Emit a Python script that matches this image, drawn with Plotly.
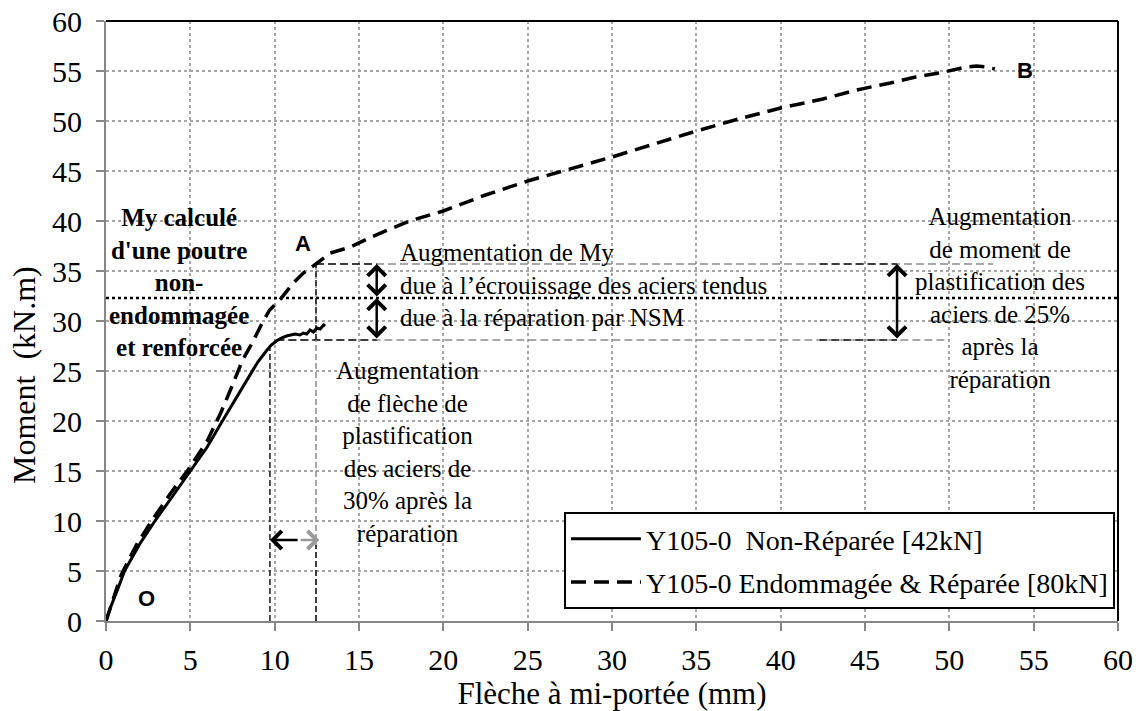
import plotly.graph_objects as go

# Mid-span deflection (mm) vs bending moment (kN.m)
defl_unrepaired = [0, 0.3, 0.7, 1.1, 2.0, 2.9, 4.0, 5.0, 6.0, 6.9, 7.7, 8.4, 9.0, 9.5, 9.8,
                   10.1, 10.4, 10.7, 10.9, 11.2, 11.5, 11.7, 11.9, 12.1, 12.3, 12.5, 12.7, 12.9, 13.0]
moment_unrepaired = [0, 1.5, 3.2, 5.0, 7.7, 10.0, 12.6, 15.0, 17.4, 20.0, 22.3, 24.3, 25.9, 27.0, 27.6,
                     28.0, 28.3, 28.5, 28.6, 28.7, 28.6, 28.8, 28.7, 29.1, 28.9, 29.3, 29.2, 29.6, 29.5]

defl_repaired = [0, 0.4, 0.9, 1.8, 2.7, 3.8, 4.9, 6.0, 6.8, 7.4, 8.1, 8.7, 9.2, 9.7, 10.3, 11.1,
                 11.7, 12.45, 13.3, 14.5, 15.6, 16.7, 18.0, 20.0, 22.5, 25.0, 27.5, 30.0, 32.5, 35.0,
                 37.5, 40.0, 42.5, 44.5, 46.5, 48.0, 49.7, 51.0, 51.6, 52.2, 52.7]
moment_repaired = [0, 2.0, 4.6, 7.6, 10.0, 12.7, 15.2, 18.0, 20.8, 23.2, 26.1, 27.9, 29.6, 31.1, 32.1, 33.8,
                   34.8, 35.7, 36.8, 37.4, 38.3, 39.1, 40.0, 41.0, 42.6, 44.0, 45.2, 46.4, 47.7, 49.0,
                   50.2, 51.3, 52.2, 53.1, 53.8, 54.4, 54.9, 55.4, 55.5, 55.4, 55.2]

series_names = ["Y105-0\u00a0 Non-Réparée [42kN]", "Y105-0 Endommagée & Réparée [80kN]"]

# Characteristic levels
my_calc = 32.3          # computed yield moment, undamaged strengthened beam
my_unrepaired = 28.1    # yield moment, unrepaired beam
my_repaired = 35.7      # yield moment, repaired beam (point A)
dy_unrepaired = 9.72    # yield deflection, unrepaired beam
dy_repaired = 12.45     # yield deflection, repaired beam
arrow_x_my = 16.05
arrow_x_pct = 46.9
arrow_y_defl = 8.1
arrow_split = 11.45

x_ticks = list(range(0, 61, 5))
y_ticks = list(range(0, 61, 5))

SERIF = "Liberation Serif"
SANS = "Liberation Sans"
GRAY = "#8c8c8c"
DARK = "#1a1a1a"

fig = go.Figure()


def ref_line(xs, ys, color, dash, width=1.5):
    fig.add_trace(go.Scatter(x=xs, y=ys, mode="lines", showlegend=False, hoverinfo="skip",
                             line=dict(color=color, width=width, dash=dash)))


# Computed My (bold dotted line across the plot)
ref_line([0, 60], [my_calc, my_calc], "black", "dot", 2.5)

# Horizontal dashed lines at the two yield moments
ref_line([dy_repaired, 52.6], [my_repaired, my_repaired], GRAY, "8px,4px")
ref_line([10.1, 50.0], [my_unrepaired, my_unrepaired], GRAY, "8px,4px")
ref_line([dy_repaired, arrow_x_my], [my_repaired, my_repaired], DARK, "8px,4px")
ref_line([10.1, arrow_x_my], [my_unrepaired, my_unrepaired], DARK, "8px,4px")
ref_line([42.3, arrow_x_pct], [my_repaired, my_repaired], DARK, "8px,4px")
ref_line([42.3, arrow_x_pct], [my_unrepaired, my_unrepaired], DARK, "8px,4px")

# Vertical dashed lines at the two yield deflections
ref_line([dy_unrepaired, dy_unrepaired], [0, 27.6], DARK, "6px,3px")
ref_line([dy_repaired, dy_repaired], [0, my_repaired], GRAY, "6px,3px")
ref_line([dy_repaired, dy_repaired], [0, 7.6], DARK, "6px,3px")
ref_line([dy_repaired, dy_repaired], [my_unrepaired, my_repaired], DARK, "6px,3px")

# Test curves
fig.add_trace(go.Scatter(x=defl_unrepaired, y=moment_unrepaired, mode="lines", name=series_names[0],
                         line=dict(color="black", width=3), legendgroup="a"))
fig.add_trace(go.Scatter(x=defl_repaired, y=moment_repaired, mode="lines", name=series_names[1],
                         line=dict(color="black", width=3.5, dash="15px,8px"), legendgroup="b"))

annotations = []


def arrow(x, y, ax, ay, color="black", both=False):
    annotations.append(dict(x=x, y=y, ax=ax, ay=ay, xref="x", yref="y", axref="x", ayref="y",
                            text="", showarrow=True, arrowhead=4, startarrowhead=4,
                            arrowside="end+start" if both else "end",
                            arrowsize=1.4, startarrowsize=1.4, arrowwidth=2.5,
                            arrowcolor=color, standoff=0, startstandoff=0))


arrow(arrow_x_my, my_repaired, arrow_x_my, my_calc, both=True)
arrow(arrow_x_my, my_calc, arrow_x_my, my_unrepaired, both=True)
arrow(arrow_x_pct, my_repaired, arrow_x_pct, my_unrepaired, both=True)
arrow(dy_unrepaired, arrow_y_defl, arrow_split, arrow_y_defl, color="black")
arrow(12.65, arrow_y_defl, arrow_split, arrow_y_defl, color="#999999")


def label(x, y, text, size=25, family=SERIF, xanchor="center", align="center"):
    annotations.append(dict(x=x, y=y, xref="x", yref="y", text=text, showarrow=False,
                            xanchor=xanchor, yanchor="middle", align=align,
                            font=dict(family=family, size=size, color="black")))


label(4.35, 33.9, "<b>My calculé<br>d'une poutre<br>non-<br>endommagée<br>et renforcée</b>", size=25)
label(17.3, 33.6, "Augmentation de My<br>due à l’écrouissage des aciers tendus<br>due à la réparation par NSM",
      xanchor="left", align="left")
label(53.0, 32.35, "Augmentation<br>de moment de<br>plastification des<br>aciers de 25%<br>après la<br>réparation")
label(17.9, 16.9, "Augmentation<br>de flèche de<br>plastification<br>des aciers de<br>30% après la<br>réparation")
label(11.7, 37.8, "<b>A</b>", size=22, family=SANS)
label(54.5, 55.1, "<b>B</b>", size=22, family=SANS)
label(2.4, 2.3, "<b>O</b>", size=22, family=SANS)

# Vertical axis title, set slightly below the middle of the axis
annotations.append(dict(x=-0.081, y=0.41, xref="paper", yref="paper", text="Moment\u00a0 (kN.m)",
                        showarrow=False, textangle=-90, xanchor="center", yanchor="middle",
                        font=dict(family=SERIF, size=32, color="black")))

axis_common = dict(
    range=[0, 60], tickmode="array", showgrid=True, griddash="dot", gridcolor="#a6a6a6", gridwidth=1.5,
    zeroline=False, showline=True, linecolor="#868686", linewidth=2, automargin=False,
    ticks="outside", ticklen=8, tickwidth=2, tickcolor="#868686",
    tickfont=dict(family=SERIF, size=30, color="black"),
)

fig.update_layout(
    width=1140, height=711,
    margin=dict(l=106, r=22, t=21, b=90),
    paper_bgcolor="white", plot_bgcolor="white",
    font=dict(family=SERIF, color="black"),
    xaxis=dict(axis_common, tickvals=x_ticks, ticklabelstandoff=3,
               title=dict(text="Flèche à mi-portée (mm)", font=dict(family=SERIF, size=31), standoff=6)),
    yaxis=dict(axis_common, tickvals=y_ticks, ticklabelstandoff=8),
    legend=dict(x=0.997, y=0.02, xanchor="right", yanchor="bottom",
                bgcolor="white", bordercolor="black", borderwidth=2, itemwidth=70,
                font=dict(family=SERIF, size=28, color="black"), tracegroupgap=4),
    annotations=annotations,
    shapes=[
        dict(type="line", xref="paper", yref="paper", x0=0, x1=1, y0=1, y1=1,
             line=dict(color="black", width=2)),
        dict(type="line", xref="paper", yref="paper", x0=1, x1=1, y0=0, y1=1,
             line=dict(color="black", width=2)),
    ],
    showlegend=True,
)

fig.write_html("out.html")
